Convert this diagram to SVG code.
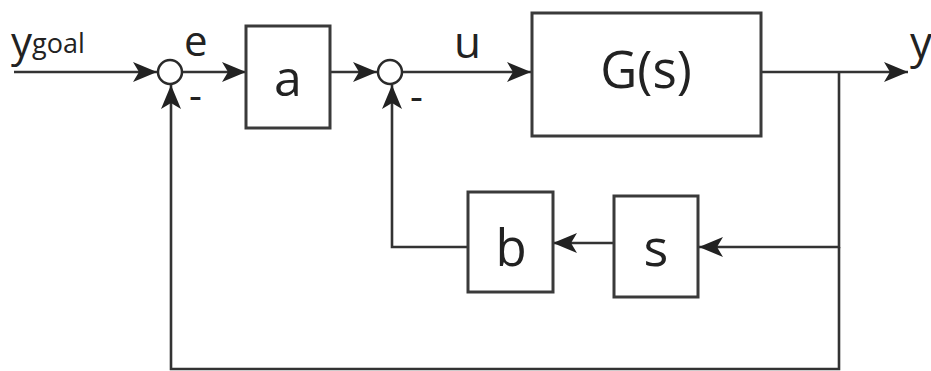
<svg xmlns="http://www.w3.org/2000/svg" width="931" height="371" viewBox="0 0 931 371">
<style>
.box{fill:#fff;stroke:#3a3a3a;stroke-width:3}
.sum{fill:#fff;stroke:#2a2a2a;stroke-width:2.5}
.ln{fill:none;stroke:#333;stroke-width:2.6}
.t{font-family:"Open Sans","Noto Sans",sans-serif;fill:#222}
</style>
<defs>
<marker id="ah" viewBox="0 0 24 20" refX="24" refY="10" markerWidth="24" markerHeight="20" markerUnits="userSpaceOnUse" orient="auto">
<path d="M0,0 L24,10 L0,20 L6,10 z" fill="#222"/>
</marker>
</defs>
<g id="connectors">
<line class="ln" x1="14" y1="72" x2="157" y2="72" marker-end="url(#ah)"/>
<line class="ln" x1="182" y1="72" x2="246" y2="72" marker-end="url(#ah)"/>
<line class="ln" x1="330" y1="72" x2="377" y2="72" marker-end="url(#ah)"/>
<line class="ln" x1="403" y1="72" x2="531" y2="72" marker-end="url(#ah)"/>
<line class="ln" x1="762" y1="72" x2="908" y2="72" marker-end="url(#ah)"/>
<polyline class="ln" points="839,72 839,247 699,247" marker-end="url(#ah)"/>
<line class="ln" x1="614" y1="243" x2="553" y2="243" marker-end="url(#ah)"/>
<polyline class="ln" points="468,247 392,247 392,85" marker-end="url(#ah)"/>
<polyline class="ln" points="839,247 839,369 171,369 171,85" marker-end="url(#ah)"/>
</g>
<g id="sum1"><circle class="sum" cx="170" cy="72" r="12"/><text class="t" x="189" y="109" font-size="40">-</text></g>
<g id="sum2"><circle class="sum" cx="390" cy="72" r="12"/><text class="t" x="410" y="110" font-size="40">-</text></g>
<g id="a"><rect class="box" x="246" y="26" width="84" height="102"/><text class="t" x="288" y="96" font-size="50" text-anchor="middle">a</text></g>
<g id="G"><rect class="box" x="532" y="13" width="229" height="123"/><text class="t" x="646" y="88" font-size="51" text-anchor="middle">G(s)</text></g>
<g id="b"><rect class="box" x="468" y="192" width="85" height="100"/><text class="t" x="511" y="266" font-size="51" text-anchor="middle">b</text></g>
<g id="s"><rect class="box" x="614" y="196" width="84" height="101"/><text class="t" x="656" y="266" font-size="52" text-anchor="middle">s</text></g>
<g id="labels">
<text class="t" x="11" y="57" font-size="42">y<tspan font-size="27" dy="-4">goal</tspan></text>
<text class="t" x="184" y="56" font-size="42">e</text>
<text class="t" x="454" y="58" font-size="44">u</text>
<text class="t" x="910" y="58" font-size="44">y</text>
</g>
</svg>
